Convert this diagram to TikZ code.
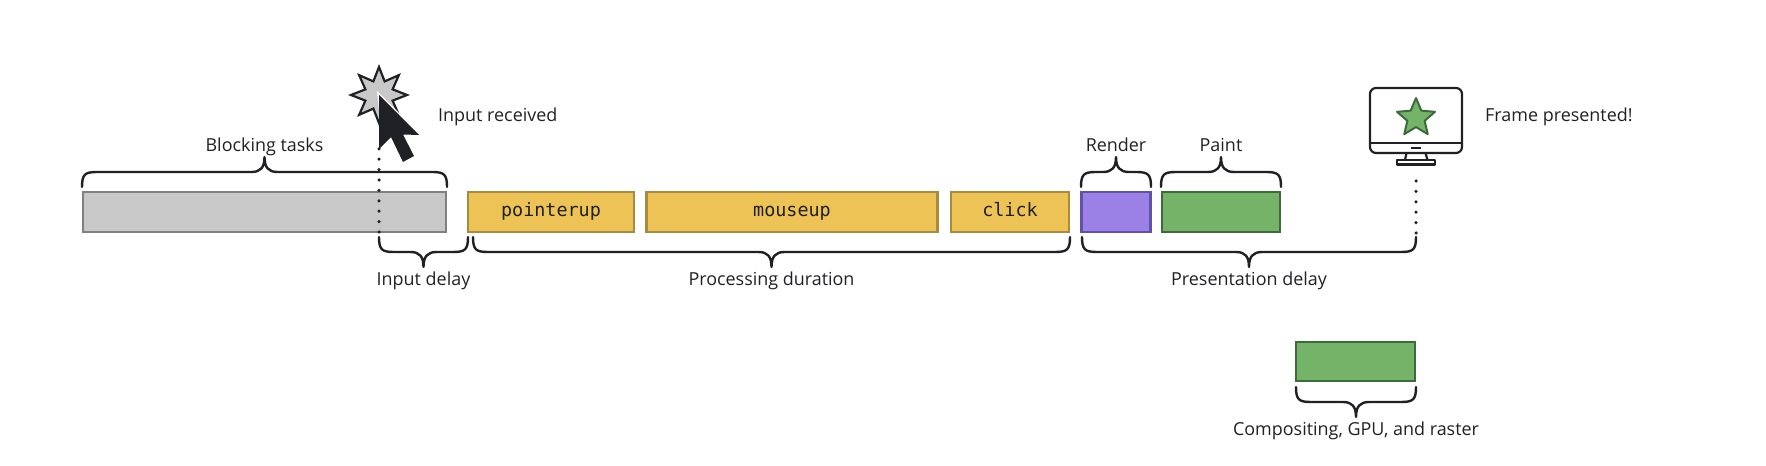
\documentclass[tikz,border=0pt]{standalone}
\usepackage{fontspec}
\setmainfont{Open Sans}
\setmonofont{DejaVu Sans Mono}
\usetikzlibrary{shapes.geometric,calc}
\definecolor{ink}{HTML}{202124}
\definecolor{greyfill}{HTML}{C8C8C8}
\definecolor{greyline}{HTML}{808080}
\definecolor{yellowfill}{HTML}{EDC355}
\definecolor{yellowline}{HTML}{A88B3F}
\definecolor{purplefill}{HTML}{9B80E6}
\definecolor{purpleline}{HTML}{5F52A8}
\definecolor{greenfill}{HTML}{74B368}
\definecolor{greenline}{HTML}{3F6B3C}
\tikzset{
  evbox/.style={draw,line width=2.2bp,inner sep=0pt,outer sep=0pt,minimum height=39.5bp,text=ink,text height=14bp,text depth=4bp,font=\ttfamily\fontsize{18.5}{22}\selectfont},
  greybox/.style={evbox,fill=greyfill,draw=greyline},
  yellowbox/.style={evbox,fill=yellowfill,draw=yellowline},
  purplebox/.style={evbox,fill=purplefill,draw=purpleline},
  greenbox/.style={evbox,fill=greenfill,draw=greenline},
  lbl/.style={text=ink,inner sep=0pt,anchor=base,font=\fontsize{18}{22}\selectfont},
  bracestyle/.style={draw=ink,line width=2.4bp,line cap=round,line join=round},
  dotline/.style={draw=ink,line width=3.5bp,line cap=round,dash pattern=on 0pt off 10.4bp},
  iconline/.style={draw=ink,line width=2.2bp,line join=round},
}
% brace between two named coordinates; #3 = +1 opens upward (tip up), -1 tip down
\newcommand\ebrace[3]{%
  \draw[bracestyle] let \p1=(#1),\p2=(#2),\n1={(\x1+\x2)/2},\n2={#3*15bp} in
    (\x1,\y1) .. controls (\x1,\y1+\n2*0.85) and (\x1+3bp,\y1+\n2) .. (\x1+15bp,\y1+\n2)
    -- (\n1-13bp,\y1+\n2) .. controls (\n1-4bp,\y1+\n2) and (\n1,\y1+\n2*1.3) .. (\n1,\y1+\n2*2)
    .. controls (\n1,\y1+\n2*1.3) and (\n1+4bp,\y1+\n2) .. (\n1+13bp,\y1+\n2)
    -- (\x2-15bp,\y1+\n2) .. controls (\x2-3bp,\y1+\n2) and (\x2,\y1+\n2*0.85) .. (\x2,\y1);
}
\begin{document}
\begin{tikzpicture}[x=1bp,y=-1bp]
\useasboundingbox (0,0) rectangle (1766,466);
% boxes
\node[greybox,minimum width=363.5bp] (blocking) at (264.5,212) {};
\node[yellowbox,minimum width=166bp] (pointerup) at (551,212) {pointerup};
\node[yellowbox,minimum width=291bp] (mouseup) at (792,212) {mouseup};
\node[yellowbox,minimum width=118.5bp] (click) at (1010,212) {click};
\node[purplebox,minimum width=69bp] (render) at (1116,212) {};
\node[greenbox,minimum width=118.5bp] (paint) at (1221,212) {};
\node[greenbox,minimum width=119.5bp,minimum height=39.5bp] (raster) at (1355.5,361.5) {};
% brace ends
\coordinate (bA) at (82,187);   \coordinate (bB) at (447,187);
\coordinate (rA) at (1081,187); \coordinate (rB) at (1151,187);
\coordinate (pA) at (1161,187); \coordinate (pB) at (1281,187);
\coordinate (iA) at (379,237);  \coordinate (iB) at (468,237);
\coordinate (dA) at (473,237);  \coordinate (dB) at (1070,237);
\coordinate (tA) at (1082,237); \coordinate (tB) at (1416,237);
\coordinate (cA) at (1296,387); \coordinate (cB) at (1416,387);
\ebrace{bA}{bB}{1}
\ebrace{rA}{rB}{1}
\ebrace{pA}{pB}{1}
\ebrace{iA}{iB}{-1}
\ebrace{dA}{dB}{-1}
\ebrace{tA}{tB}{-1}
\ebrace{cA}{cB}{-1}
% labels
\node[lbl] (lblock) at (264.5,152) {Blocking tasks};
\node[lbl] (lrender) at (1116,152) {Render};
\node[lbl] (lpaint) at (1221,152) {Paint};
\node[lbl] (linput) at (423.5,286) {Input delay};
\node[lbl] (lproc) at (771.5,286) {Processing duration};
\node[lbl] (lpres) at (1249,286) {Presentation delay};
\node[lbl] (lcomp) at (1356,435) {Compositing, GPU, and raster};
\node[lbl,anchor=base west] (lrecv) at (438,121.5) {Input received};
\node[lbl,anchor=base west] (lframe) at (1485,121.5) {Frame presented!};
% input burst and dotted line
\node[star,star points=8,star point ratio=1.9,minimum size=56bp,inner sep=0pt,draw=ink,line width=2.2bp,fill=greyfill] (burst) at (379,95) {};
\coordinate (dotTop) at (379,147);
\coordinate (dotBot) at (379,232);
\draw[dotline] (dotBot) -- (dotTop);
% cursor
\fill[white] (377,91) -- (423,137) -- (395,137) -- (380,120) -- cycle;
\fill[ink] (379,95) -- (419,135) -- (403,134.5) -- (414,156) -- (403,162) -- (391,137) -- (379,149) -- cycle;
% monitor
\draw[iconline,rounded corners=6bp,fill=white] (1370,88) rectangle (1462,153);
\draw[iconline] (1370,143) -- (1462,143);
\draw[iconline] (1411,148) -- (1421,148);
\draw[iconline] (1406.5,153) -- (1405,160);
\draw[iconline] (1425.5,153) -- (1427.5,160);
\draw[iconline] (1397,160) rectangle (1435,164.5);
\node[star,star points=5,star point ratio=2.2,minimum size=40bp,inner sep=0pt,draw=greenline,line width=2bp,line join=round,fill=greenfill] (frame) at (1416,118) {};
\coordinate (frameDotTop) at (1416,176);
\coordinate (frameDotBot) at (1416,233);
\draw[dotline] (frameDotBot) -- (frameDotTop);
\end{tikzpicture}
\end{document}
